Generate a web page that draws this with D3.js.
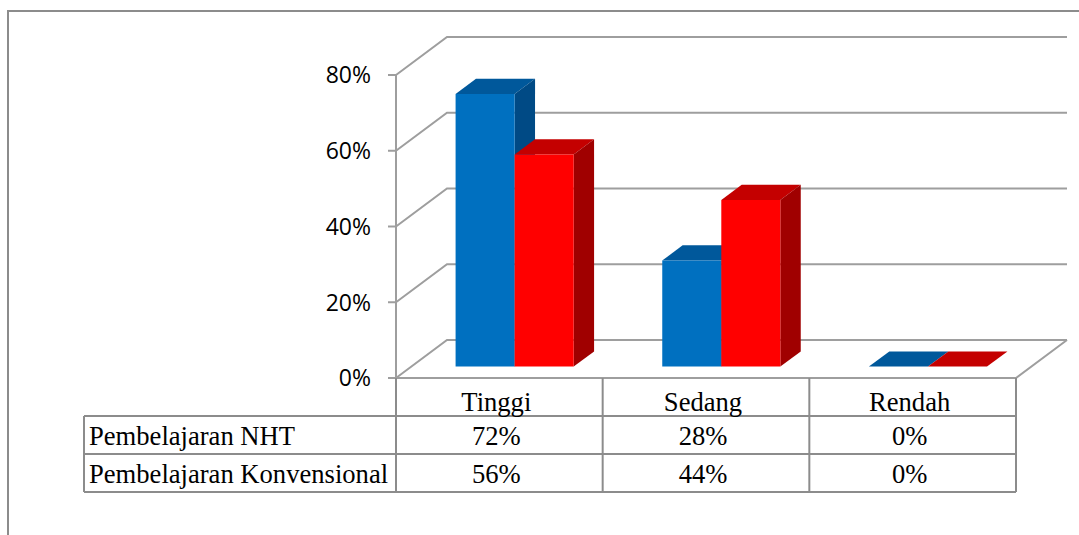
<!DOCTYPE html>
<html><head><meta charset="utf-8">
<script src="https://cdn.jsdelivr.net/npm/d3@7"></script>
<style>html,body{margin:0;padding:0;background:#fff;overflow:hidden}</style>
</head><body><svg id="c" width="1079" height="535"></svg>
<script>
// ---- data ----
const categories = ["Tinggi", "Sedang", "Rendah"];
const seriesNames = ["Pembelajaran NHT", "Pembelajaran Konvensional"];
const nhtValues = [0.72, 0.28, 0.00];
const konvValues = [0.56, 0.44, 0.00];
const yTicks = [0, 0.2, 0.4, 0.6, 0.8];
const tableLabelsNHT = ["72%", "28%", "0%"];
const tableLabelsKonv = ["56%", "44%", "0%"];

// ---- layout ----
const svg = d3.select("#c");
const X0 = 396, X1 = 1016, Y0 = 378, Ytop = 75;
const DX = 51, DY = -38;           // depth vector of the 3D box
const gridColor = "#9e9e9e", tableColor = "#8c8c8c";
const colors = [
  {front: "#0070C0", top: "#00589B", side: "#004A85"},
  {front: "#FF0000", top: "#C40000", side: "#A00000"}
];
const seriesValues = [nhtValues, konvValues];

const x = d3.scaleBand().domain(categories).range([X0, X1]);
const xs = d3.scaleBand().domain(seriesNames).range([0, x.bandwidth()]).paddingInner(0).paddingOuter(0.75);
const y = d3.scaleLinear().domain([0, 0.8]).range([Y0, Ytop]);
const P = (px, v, f) => [px + DX * f, y(v) + DY * f];
const line = d3.line();

// outer border
svg.append("rect").attr("x", 8).attr("y", 11).attr("width", 1200).attr("height", 700)
  .attr("fill", "none").attr("stroke", "#8c8c8c").attr("stroke-width", 2);

// side wall + back wall gridlines
const g = svg.append("g").attr("fill", "none").attr("stroke", gridColor).attr("stroke-width", 2);
yTicks.forEach(t => {
  g.append("path").attr("d", line([P(X0, t, 0), P(X0, t, 1), P(X1, t, 1)]));
});
// floor
g.append("path").attr("d", line([P(X0, 0, 0), P(X1, 0, 0), P(X1, 0, 1)]));

// axis
const ax = svg.append("g");
ax.append("line").attr("x1", X0).attr("x2", X0).attr("y1", y(0.8)).attr("y2", y(0))
  .attr("stroke", gridColor).attr("stroke-width", 2);
yTicks.forEach(t => {
  ax.append("line").attr("x1", X0 - 8).attr("x2", X0).attr("y1", y(t)).attr("y2", y(t))
    .attr("stroke", gridColor).attr("stroke-width", 2);
  ax.append("text").attr("x", X0 - 25).attr("y", y(t)).attr("dy", "0.36em")
    .attr("text-anchor", "end").attr("font-family", "'Open Sans', sans-serif")
    .attr("font-size", 23).attr("fill", "#000").text(d3.format(".0%")(t));
});

// bars
const F1 = 0.3, F2 = 0.7;
const bars = svg.append("g");
categories.forEach((c, i) => {
  seriesNames.forEach((s, j) => {
    const v = seriesValues[j][i];
    const xl = x(c) + xs(s), xr = xl + xs.bandwidth();
    const col = colors[j];
    // top face
    bars.append("path").attr("fill", col.top)
      .attr("d", line([P(xl, v, F1), P(xr, v, F1), P(xr, v, F2), P(xl, v, F2)]) + "Z");
    if (v > 0) {
      // side face
      bars.append("path").attr("fill", col.side)
        .attr("d", line([P(xr, 0, F1), P(xr, v, F1), P(xr, v, F2), P(xr, 0, F2)]) + "Z");
      // front face
      bars.append("path").attr("fill", col.front)
        .attr("d", line([P(xl, 0, F1), P(xr, 0, F1), P(xr, v, F1), P(xl, v, F1)]) + "Z");
    }
  });
});

// data table
const TL = 84, R1 = 416, R2 = 454, R3 = 492;
const tg = svg.append("g").attr("stroke", tableColor).attr("stroke-width", 2);
[R1, R2, R3].forEach(r => tg.append("line").attr("x1", TL).attr("x2", X1).attr("y1", r).attr("y2", r));
tg.append("line").attr("x1", TL).attr("x2", TL).attr("y1", R1).attr("y2", R3);
categories.forEach(c => {
  tg.append("line").attr("x1", x(c)).attr("x2", x(c)).attr("y1", Y0).attr("y2", R3);
});
tg.append("line").attr("x1", X1).attr("x2", X1).attr("y1", Y0).attr("y2", R3);

const tt = svg.append("g").attr("font-family", "'Liberation Serif', 'Times New Roman', serif")
  .attr("font-size", 26.6).attr("fill", "#000");
categories.forEach((c, i) => {
  const cx = x(c) + x.bandwidth() / 2 - 3;
  tt.append("text").attr("x", cx).attr("y", 411).attr("text-anchor", "middle").text(c);
  tt.append("text").attr("x", cx).attr("y", 445).attr("text-anchor", "middle").text(tableLabelsNHT[i]);
  tt.append("text").attr("x", cx).attr("y", 483).attr("text-anchor", "middle").text(tableLabelsKonv[i]);
});
tt.append("text").attr("x", 89).attr("y", 445).text(seriesNames[0]);
tt.append("text").attr("x", 89).attr("y", 483).text(seriesNames[1]);
</script></body></html>
